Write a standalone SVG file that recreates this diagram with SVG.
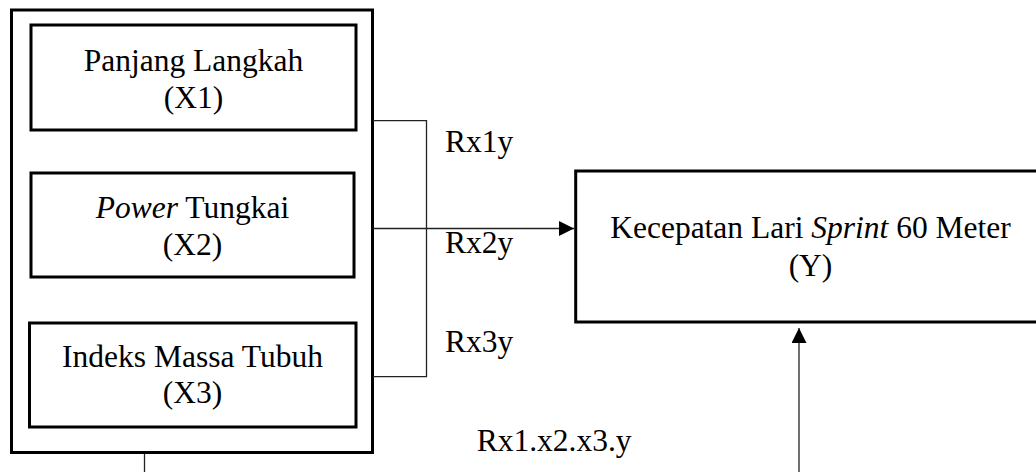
<svg xmlns="http://www.w3.org/2000/svg" width="1036" height="472" viewBox="0 0 1036 472">
<style>
.box{fill:#fff;stroke:#000;stroke-width:3}
.t{font-family:'Liberation Serif','Times New Roman',Times,serif;font-size:31.5px;fill:#000}
.c{text-anchor:middle}
.ln{fill:none;stroke:#222;stroke-width:1.3}
</style>
<defs>
<marker id="ah" viewBox="0 0 10 10" refX="10" refY="5" markerWidth="15" markerHeight="15" markerUnits="userSpaceOnUse" orient="auto">
<path d="M0,0 L10,5 L0,10 Z" fill="#000"/>
</marker>
</defs>
<g id="outer"><rect class="box" x="11.5" y="10" width="361" height="442.5"/></g>
<g id="x1"><rect class="box" x="31" y="25" width="325" height="105"/>
<text class="t c" x="193.5" y="71">Panjang Langkah</text>
<text class="t c" x="193.5" y="108">(X1)</text></g>
<g id="x2"><rect class="box" x="31" y="173" width="323" height="104"/>
<text class="t c" x="192.5" y="218"><tspan font-style="italic">Power</tspan> Tungkai</text>
<text class="t c" x="192.5" y="255">(X2)</text></g>
<g id="x3"><rect class="box" x="29.5" y="323" width="326.5" height="104"/>
<text class="t c" x="192.5" y="366.7">Indeks Massa Tubuh</text>
<text class="t c" x="192.5" y="403.3">(X3)</text></g>
<g id="y"><rect class="box" x="575.7" y="171" width="470" height="151"/>
<text class="t c" x="810.5" y="238">Kecepatan Lari <tspan font-style="italic">Sprint</tspan> 60 Meter</text>
<text class="t c" x="810.5" y="276">(Y)</text></g>
<g id="connectors">
<path class="ln" d="M373,120.7 H426.5 V376.7 H373"/>
<path class="ln" d="M373,228.5 H574" marker-end="url(#ah)"/>
<path class="ln" d="M144.5,454 V472"/>
<path class="ln" d="M799,472 V328" marker-end="url(#ah)"/>
</g>
<g id="labels">
<text class="t" x="445" y="151.7">Rx1y</text>
<text class="t" x="445" y="252.7">Rx2y</text>
<text class="t" x="445" y="351.7">Rx3y</text>
<text class="t" x="476.7" y="450.7">Rx1.x2.x3.y</text>
</g>
</svg>
